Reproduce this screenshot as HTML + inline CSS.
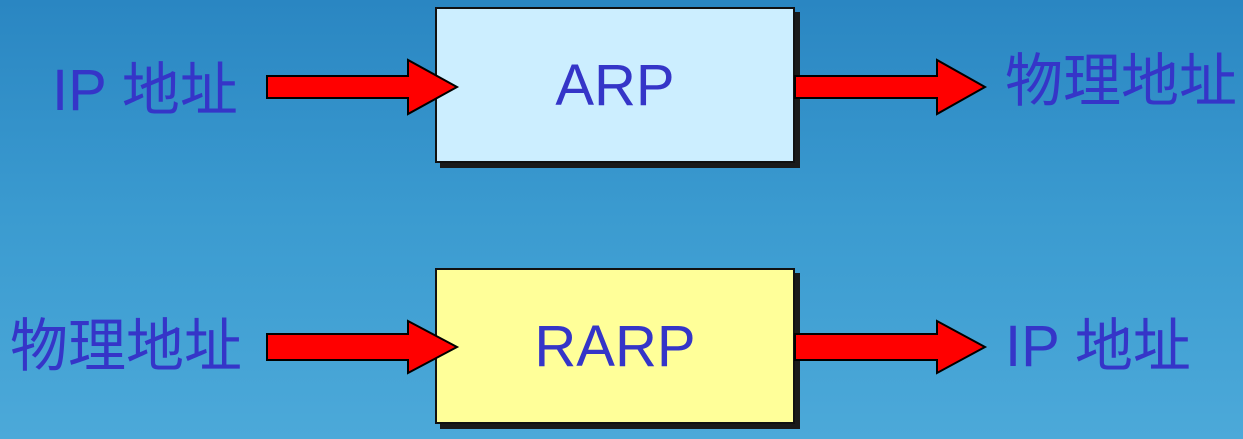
<!DOCTYPE html>
<html><head><meta charset="utf-8"><style>
html,body{margin:0;padding:0}
body{width:1243px;height:439px;overflow:hidden;background:linear-gradient(180deg,#2a86c2 0%,#3b9bd0 50%,#4ca9d9 100%);position:relative;font-family:"Liberation Sans","Noto Sans CJK SC",sans-serif}
.t{position:absolute;color:#3535c8;font-size:58px;line-height:1;white-space:nowrap}
.box{position:absolute;border:2px solid #111;box-shadow:5px 5px 0 #1a1a1a;box-sizing:border-box;display:flex;align-items:center;justify-content:center;color:#3535c8;font-size:58px}
svg{position:absolute;left:0;top:0}
</style></head><body>
<div class="box" style="left:435px;top:7px;width:360px;height:156px;background:#cceeff">ARP</div>
<div class="box" style="left:435px;top:268px;width:360px;height:156px;background:#ffff99">RARP</div>
<svg width="1243" height="439">
<g fill="#ff0000" stroke="#000" stroke-width="2">
<polygon points="267,76 408,76 408,60 457,87 408,114 408,98 267,98"/>
<polygon points="795,76 937,76 937,60 985,87 937,114 937,98 795,98"/>
<polygon points="267,334 408,334 408,321 457,347 408,373 408,360 267,360"/>
<polygon points="795,334 937,334 937,321 985,347 937,373 937,360 795,360"/>
</g>
</svg>
<div class="t" style="left:52px;top:62px">IP 地址</div>
<div class="t" style="left:1005px;top:53px">物理地址</div>
<div class="t" style="left:10px;top:318px">物理地址</div>
<div class="t" style="left:1005px;top:318px">IP 地址</div>
</body></html>
